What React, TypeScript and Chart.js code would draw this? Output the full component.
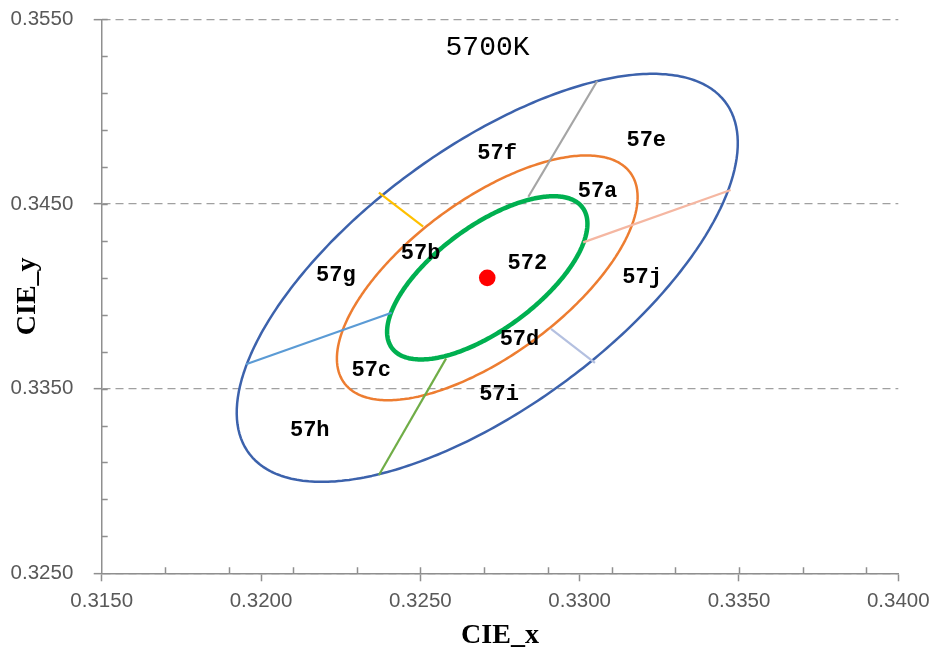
import React, { useEffect, useRef } from 'react';
import { Chart, registerables } from 'chart.js';

Chart.register(...registerables);

// ---------- data ----------
const xMajorTicks = [0.315, 0.32, 0.325, 0.33, 0.335, 0.34];
const yMajorTicks = [0.325, 0.335, 0.345, 0.355];
const xMinorTicks = [0.317, 0.319, 0.321, 0.323, 0.325, 0.327, 0.329, 0.331, 0.333, 0.335, 0.337, 0.339];
const yMinorTicks = [0.327, 0.329, 0.331, 0.333, 0.335, 0.337, 0.339, 0.341, 0.343, 0.345, 0.347, 0.349, 0.351, 0.353, 0.355];

const centerX = 0.3271;
const centerY = 0.3410;

// MacAdam-type ellipses (outer, middle, inner)
const ellipseSemiMajor = [0.01252, 0.00751, 0.00501];
const ellipseSemiMinor = [0.00521, 0.00313, 0.00208];
const ellipseAngleDeg = 58.85;

// dividing segments between zones
const dividerStartX = [0.32839, 0.33011, 0.3291, 0.32581, 0.3241, 0.3237];
const dividerStartY = [0.34539, 0.34292, 0.33823, 0.33664, 0.33911, 0.34561];
const dividerEndX = [0.33055, 0.33474, 0.33048, 0.3237, 0.31953, 0.32509];
const dividerEndY = [0.35166, 0.34576, 0.3364, 0.33032, 0.33632, 0.34377];

// zone labels
const zoneLabels = ['57a', '572', '57b', '57c', '57d', '57e', '57f', '57g', '57h', '57i', '57j'];
const zoneLabelX = [0.33056, 0.32836, 0.32501, 0.32346, 0.32811, 0.33209, 0.32741, 0.32235, 0.32153, 0.32747, 0.33196];
const zoneLabelY = [0.34566, 0.34179, 0.34233, 0.33598, 0.33768, 0.34846, 0.34771, 0.34115, 0.33273, 0.33471, 0.34103];

const chartTitle = '5700K';
const titleX = 0.32711;
const titleY = 0.35347;

// ---------- styles ----------
const AXIS_COLOR = '#8f8f8f';
const GRID_COLOR = '#a0a0a0';
const TICK_TEXT = '#595959';
const ellipseColors = ['#3c62ac', '#ed7d31', '#00b050'];
const ellipseWidths = [2.5, 2.5, 4.5];
const dividerColors = ['#a5a5a5', '#f5b7a2', '#b4c0e0', '#70ad47', '#5b9bd5', '#ffc000'];

function ellipsePoints(a: number, b: number) {
  const th = (ellipseAngleDeg * Math.PI) / 180;
  const pts: { x: number; y: number }[] = [];
  for (let i = 0; i <= 360; i += 2) {
    const t = (i * Math.PI) / 180;
    const ex = a * Math.cos(t);
    const ey = b * Math.sin(t);
    pts.push({
      x: centerX + ex * Math.cos(th) - ey * Math.sin(th),
      y: centerY + ex * Math.sin(th) + ey * Math.cos(th),
    });
  }
  return pts;
}

const overlayPlugin = {
  id: 'overlay',
  beforeDatasetsDraw(chart: any) {
    const { ctx, chartArea } = chart;
    const xs = chart.scales.x;
    const ys = chart.scales.y;
    ctx.save();
    ctx.strokeStyle = AXIS_COLOR;
    ctx.lineWidth = 1.5;
    ctx.beginPath();
    xMinorTicks.forEach((v) => {
      const px = Math.round(xs.getPixelForValue(v)) + 0.5;
      ctx.moveTo(px, chartArea.bottom);
      ctx.lineTo(px, chartArea.bottom - 6);
    });
    yMinorTicks.forEach((v) => {
      const py = Math.round(ys.getPixelForValue(v)) + 0.5;
      ctx.moveTo(chartArea.left, py);
      ctx.lineTo(chartArea.left + 6, py);
    });
    ctx.stroke();
    ctx.restore();
  },
  afterDatasetsDraw(chart: any) {
    const { ctx } = chart;
    const xs = chart.scales.x;
    const ys = chart.scales.y;
    ctx.save();
    ctx.fillStyle = '#000';
    ctx.textAlign = 'center';
    ctx.textBaseline = 'middle';
    ctx.font = 'bold 22px "Liberation Mono"';
    zoneLabels.forEach((t, i) => {
      ctx.fillText(t, xs.getPixelForValue(zoneLabelX[i]), ys.getPixelForValue(zoneLabelY[i]));
    });
    ctx.font = '28px "Liberation Mono"';
    ctx.fillText(chartTitle, xs.getPixelForValue(titleX), ys.getPixelForValue(titleY));
    ctx.restore();
  },
};

export default function App() {
  const ref = useRef<HTMLCanvasElement>(null);
  useEffect(() => {
    const datasets: any[] = [];
    datasets.push({
      label: 'center',
      data: [{ x: centerX, y: centerY }],
      pointRadius: 8.3,
      pointBackgroundColor: '#ff0000',
      pointBorderWidth: 0,
      showLine: false,
      order: 0,
    });
    dividerStartX.forEach((_, i) => {
      datasets.push({
        label: 'divider' + i,
        data: [
          { x: dividerStartX[i], y: dividerStartY[i] },
          { x: dividerEndX[i], y: dividerEndY[i] },
        ],
        showLine: true,
        borderColor: dividerColors[i],
        borderWidth: 2.2,
        pointRadius: 0,
        order: 1,
      });
    });
    ellipseSemiMajor.forEach((a, i) => {
      datasets.push({
        label: 'ellipse' + i,
        data: ellipsePoints(a, ellipseSemiMinor[i]),
        showLine: true,
        borderColor: ellipseColors[i],
        borderWidth: ellipseWidths[i],
        borderJoinStyle: 'round',
        borderCapStyle: 'round',
        pointRadius: 0,
        tension: 0.001,
        order: 2 + (2 - i),
      });
    });

    const chart = new Chart(ref.current!, {
      type: 'scatter',
      data: { datasets },
      options: {
        responsive: false,
        animation: false,
        layout: { padding: { left: 0, top: 19.3, right: 34.7, bottom: 0 } },
        plugins: { legend: { display: false }, tooltip: { enabled: false } },
        scales: {
          x: {
            type: 'linear',
            position: 'bottom',
            min: 0.315,
            max: 0.34,
            afterBuildTicks: (s: any) => {
              s.ticks = xMajorTicks.map((v) => ({ value: v }));
            },
            afterFit: (s: any) => {
              s.height = 82.7;
              s.paddingLeft = 0;
              s.paddingRight = 0;
            },
            ticks: {
              callback: (v: any) => Number(v).toFixed(4),
              font: { family: 'Liberation Sans', size: 20.5 },
              color: TICK_TEXT,
              padding: 8,
              maxRotation: 0,
              autoSkip: false,
            },
            grid: {
              drawOnChartArea: false,
              drawTicks: true,
              tickLength: 8,
              tickColor: AXIS_COLOR,
              tickWidth: 1.5,
            },
            border: { display: true, color: AXIS_COLOR, width: 1.5 },
            title: {
              display: true,
              text: 'CIE_x',
              font: { family: 'Liberation Serif', weight: 'bold', size: 28 },
              color: '#000',
              padding: { top: 0, bottom: 3 },
            },
          },
          y: {
            type: 'linear',
            position: 'left',
            min: 0.325,
            max: 0.355,
            afterBuildTicks: (s: any) => {
              s.ticks = yMajorTicks.map((v) => ({ value: v }));
            },
            afterFit: (s: any) => {
              s.width = 101.7;
              s.paddingTop = 0;
              s.paddingBottom = 0;
            },
            ticks: {
              callback: (v: any) => Number(v).toFixed(4),
              font: { family: 'Liberation Sans', size: 20.5 },
              color: TICK_TEXT,
              padding: 20.4,
              autoSkip: false,
            },
            grid: {
              drawOnChartArea: true,
              color: GRID_COLOR,
              lineWidth: 1.3,
              drawTicks: true,
              tickLength: 8,
              tickColor: AXIS_COLOR,
              tickWidth: 1.5,
              tickBorderDash: [],
            },
            border: { display: true, color: AXIS_COLOR, width: 1.5, dash: [8, 5] },
            title: {
              display: true,
              text: 'CIE_y',
              font: { family: 'Liberation Serif', weight: 'bold', size: 28 },
              color: '#000',
              padding: { top: 11, bottom: 0 },
            },
          },
        },
      },
      plugins: [overlayPlugin],
    } as any);
    return () => chart.destroy();
  }, []);

  return (
    <div style={{ position: 'absolute', left: 0, top: 0, width: 933, height: 656, background: '#fff' }}>
      <canvas ref={ref} width={933} height={656} />
    </div>
  );
}
